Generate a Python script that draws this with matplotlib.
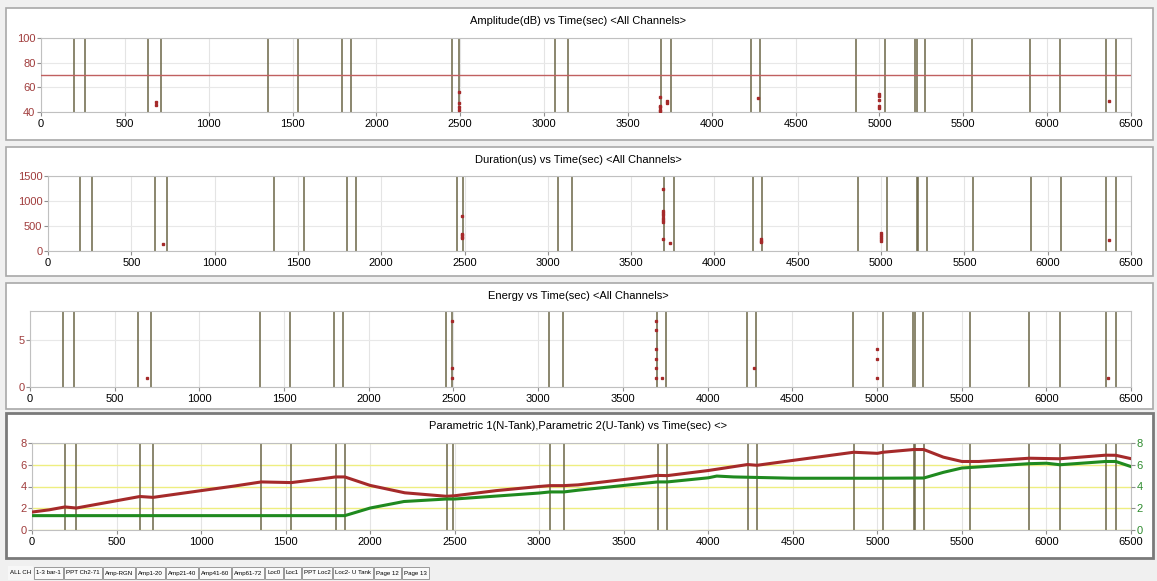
import matplotlib
matplotlib.use("Agg")
import matplotlib.pyplot as plt
from matplotlib.patches import Rectangle

plt.rcParams['font.family'] = ['Liberation Sans', 'DejaVu Sans']

W, H = 1157, 581

# hit times (sec) - the vertical marker lines
marks = [195, 262, 640, 716, 1356, 1534, 1796, 1850, 2453, 2490, 3063, 3145,
         3700, 3757, 4232, 4288, 4860, 5034, 5214, 5222, 5274, 5550, 5899, 6078, 6350, 6410]

# Amplitude(dB) hits
amp_t = [688, 688, 2490, 2490, 2490, 2490, 3690, 3690, 3690, 3690, 3690, 3734, 3734,
         4276, 5000, 5000, 5000, 5000, 5000, 6367]
amp_v = [46, 48, 56, 47, 44, 42, 52, 45, 44, 42, 41, 49, 47,
         51, 55, 53, 50, 45, 43, 49]

# Duration(us) hits
dur_t = [688, 2485, 2485, 2485, 2485, 2485, 3690, 3690, 3690, 3690, 3690, 3690, 3690, 3690,
         3735, 4279, 4279, 4279, 5002, 5002, 5002, 5002, 5002, 6366]
dur_v = [148, 706, 350, 320, 290, 270, 1231, 807, 760, 713, 666, 619, 572, 242,
         168, 235, 210, 185, 370, 330, 290, 250, 200, 215]

# Energy hits
en_t = [688, 2492, 2492, 2492, 3693, 3693, 3693, 3693, 3693, 3693, 3734, 4275, 5000, 5000, 5000, 6363]
en_v = [1, 7, 2, 1, 7, 6, 4, 3, 2, 1, 1, 2, 4, 3, 1, 1]

# Parametric 1 (N-Tank)
p1_t = [0, 100, 195, 262, 450, 638, 716, 1000, 1200, 1356, 1534, 1700, 1796, 1850, 2000,
        2205, 2451, 2500, 2745, 3000, 3063, 3145, 3230, 3500, 3700, 3757, 4000, 4232,
        4288, 4500, 4860, 5000, 5034, 5214, 5274, 5390, 5500, 5600, 5899, 6078, 6350, 6410, 6500]
p1_v = [1.65, 1.85, 2.12, 2.02, 2.55, 3.08, 3.0, 3.62, 4.05, 4.42, 4.36, 4.68, 4.88, 4.88, 4.1,
        3.42, 3.1, 3.15, 3.62, 4.0, 4.08, 4.08, 4.15, 4.64, 5.02, 5.0, 5.47, 6.02,
        5.95, 6.4, 7.15, 7.05, 7.15, 7.4, 7.4, 6.7, 6.3, 6.3, 6.6, 6.55, 6.88, 6.87, 6.56]

# Parametric 2 (U-Tank)
p2_t = [0, 500, 1000, 1500, 1850, 2000, 2200, 2451, 2500, 3000, 3063, 3145, 3230, 3700, 3757,
        4000, 4050, 4150, 4500, 5000, 5274, 5390, 5500, 5900, 6000, 6080, 6350, 6410, 6500]
p2_v = [1.32, 1.32, 1.32, 1.32, 1.32, 2.02, 2.62, 2.85, 2.85, 3.4, 3.5, 3.5, 3.66, 4.42, 4.42,
        4.8, 4.96, 4.88, 4.76, 4.76, 4.78, 5.3, 5.7, 6.1, 6.14, 6.0, 6.3, 6.3, 5.83]

titles = ["Amplitude(dB) vs Time(sec) <All Channels>",
          "Duration(us) vs Time(sec) <All Channels>",
          "Energy vs Time(sec) <All Channels>",
          "Parametric 1(N-Tank),Parametric 2(U-Tank) vs Time(sec) <>"]

tabs = ["ALL CH", "1-3 bar-1", "PPT Ch2-71", "Amp-RGN", "Amp1-20", "Amp21-40", "Amp41-60",
        "Amp61-72", "Loc0", "Loc1", "PPT Loc2", "Loc2- U Tank", "Page 12", "Page 13"]

RED = '#a52a2a'
LINECOL = '#6b6646'
TICKRED = '#a03c3c'


def fr(x0, y0, x1, y1):
    return [x0 / W, 1 - y1 / H, (x1 - x0) / W, (y1 - y0) / H]


fig = plt.figure(figsize=(W / 100, H / 100), dpi=100, facecolor='#f0f0f0')

# panel frames (top, bottom) - drawn under the axes
frames = [(8, 140), (147, 276), (283, 409), (413, 558)]
for i, (t, b) in enumerate(frames):
    ec = '#7a7a7a' if i == 3 else '#a8a8a8'
    lw = 2.0 if i == 3 else 1.2
    fig.patches.append(Rectangle((6 / W, 1 - b / H), 1147 / W, (b - t) / H,
                                 transform=fig.transFigure, facecolor='white',
                                 edgecolor=ec, lw=lw, zorder=-5))
    fig.text(578 / W, 1 - (t + 13) / H, titles[i], ha='center', va='center', fontsize=8)

boxes = [(41, 38, 1131, 112), (48, 176, 1131, 251), (30, 311, 1131, 387), (32, 443, 1131, 530)]
axes = [fig.add_axes(fr(*b)) for b in boxes]

for i, ax in enumerate(axes):
    ax.set_facecolor('white')
    ax.set_xlim(0, 6500)
    ax.set_xticks(range(0, 6501, 500))
    for s in ax.spines.values():
        s.set_color('#c0c0c0')
        s.set_linewidth(0.8)
    ax.tick_params(axis='x', length=3, width=0.8, color='#909090', labelsize=8, pad=2)
    ax.tick_params(axis='y', length=3, width=0.8, color='#909090', labelsize=8,
                   labelcolor=TICKRED, pad=1)
    ax.grid(axis='x', color='#e4e4e4', lw=0.8)
    ax.set_axisbelow(True)
    for m in marks:
        ax.axvline(m, color=LINECOL, lw=1.1, zorder=2)

ax1, ax2, ax3, ax4 = axes
ax1.set_ylim(40, 100)
ax1.set_yticks([40, 60, 80, 100])
ax1.grid(axis='y', color='#e8e8e8', lw=0.8)
ax1.axhline(70, color='#c06060', lw=1.0, zorder=3)
ax1.plot(amp_t, amp_v, 's', color=RED, ms=1.5, zorder=4)

ax2.set_ylim(0, 1500)
ax2.set_yticks([0, 500, 1000, 1500])
ax2.grid(axis='y', color='#e8e8e8', lw=0.8)
ax2.plot(dur_t, dur_v, 's', color=RED, ms=1.5, zorder=4)

ax3.set_ylim(0, 8)
ax3.set_yticks([0, 5])
ax3.grid(axis='y', color='#e8e8e8', lw=0.8)
ax3.plot(en_t, en_v, 's', color=RED, ms=1.4, zorder=4)

ax4.set_ylim(0, 8)
ax4.set_yticks([0, 2, 4, 6, 8])
ax4.grid(axis='y', color='#eeee80', lw=1.0)
ax4.plot(p1_t, p1_v, color=RED, lw=2.2, zorder=4)
ax4r = ax4.twinx()
ax4r.set_ylim(0, 8)
ax4r.set_yticks([0, 2, 4, 6, 8])
ax4r.tick_params(axis='y', length=3, width=0.8, color='#909090', labelsize=8,
                 labelcolor='#2e8b2e', pad=1)
for s in ax4r.spines.values():
    s.set_visible(False)
ax4r.plot(p2_t, p2_v, color='#1f8a1f', lw=2.2, zorder=4)

# tab strip at the bottom
fig.canvas.draw()
rend = fig.canvas.get_renderer()
x = 8
for i, name in enumerate(tabs):
    txt = fig.text(0, 0, name, fontsize=4.4, va='center', ha='center')
    w = txt.get_window_extent(rend).width + 4
    txt.set_position(((x + w / 2) / W, 1 - 573 / H))
    if i == 0:
        fig.patches.append(Rectangle((x / W, 1 - 580 / H), w / W, 14 / H,
                                     transform=fig.transFigure, facecolor='#f7f7f7',
                                     edgecolor='none', zorder=-5))
    else:
        fig.patches.append(Rectangle((x / W, 1 - 579 / H), w / W, 12 / H,
                                     transform=fig.transFigure, facecolor='#fafafa',
                                     edgecolor='#9a9a9a', lw=0.7, zorder=-5))
    x += w + 1

fig.savefig('out.png', dpi=100, facecolor=fig.get_facecolor())
